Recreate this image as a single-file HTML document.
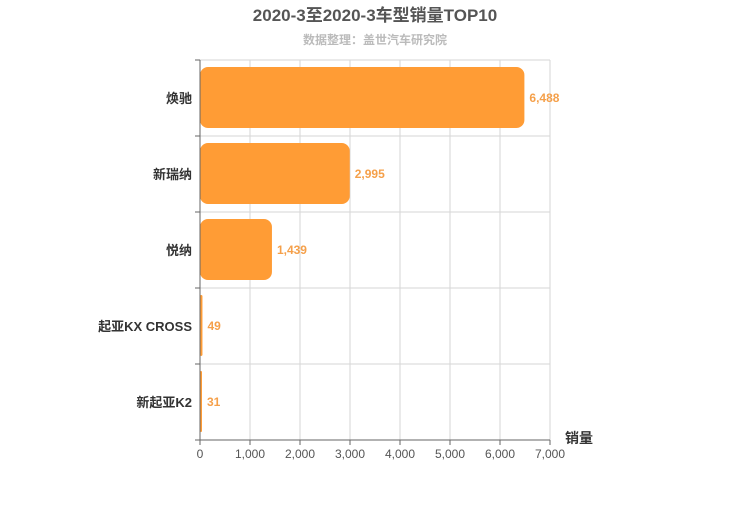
<!DOCTYPE html>
<html><head><meta charset="utf-8"><style>
body{margin:0;background:#fff;font-family:"Liberation Sans","Noto Sans CJK SC",sans-serif}
</style></head><body>
<svg id="c" width="750" height="500" xmlns="http://www.w3.org/2000/svg" font-family="Liberation Sans, Noto Sans CJK SC, sans-serif">
<text x="375" y="21" text-anchor="middle" font-size="17" font-weight="bold" fill="#555">2020-3至2020-3车型销量TOP10</text>
<text x="375" y="44" text-anchor="middle" font-size="12" font-weight="bold" fill="#bbb">数据整理：盖世汽车研究院</text>
<g id="grid"></g><g id="bars"></g><g id="axes"></g>
<text x="565" y="443" font-size="14" font-weight="bold" fill="#333">销量</text>
</svg>
<script>
const categories=["焕驰","新瑞纳","悦纳","起亚KX CROSS","新起亚K2"];
const values=[6488,2995,1439,49,31];
const valueLabels=["6,488","2,995","1,439","49","31"];
const xTicks=[0,1000,2000,3000,4000,5000,6000,7000];
const xTickLabels=["0","1,000","2,000","3,000","4,000","5,000","6,000","7,000"];
const NS="http://www.w3.org/2000/svg";
const L=200,R=550,T=60,B=440,xMax=7000;
const x=v=>L+(R-L)*v/xMax;
const band=(B-T)/categories.length;
const y=i=>T+band*i;
function mk(p,tag,a,txt){const e=document.createElementNS(NS,tag);for(const k in a)e.setAttribute(k,a[k]);if(txt!=null)e.textContent=txt;document.getElementById(p).appendChild(e);return e;}
xTicks.forEach((t,i)=>{
 if(i>0){const g=mk('grid','line',{x1:x(t),x2:x(t),y1:T,y2:B,stroke:'#d6d6d6'});
 }
 const tk=mk('axes','line',{x1:x(t),x2:x(t),y1:B,y2:B+5,stroke:'#666'});
 
 const lb=mk('axes','text',{x:x(t),y:B+18,'text-anchor':'middle','font-size':12,fill:'#555'},xTickLabels[i]);
 
});
for(let i=0;i<=categories.length;i++){
 if(i<categories.length){const g=mk('grid','line',{x1:L,x2:R,y1:y(i),y2:y(i),stroke:'#d6d6d6'});
 }
 const tk=mk('axes','line',{x1:L-5,x2:L,y1:y(i),y2:y(i),stroke:'#666'});
 
}
categories.forEach((c,i)=>{
 const w=Math.max(x(values[i])-L,2);
 const r=mk('bars','rect',{x:L,y:y(i)+7,width:w,height:band-15,rx:Math.min(8,w/2),fill:'#ff9c35'});
 
 const v=mk('bars','text',{x:L+w+5,y:y(i)+band/2+4,'font-size':12,'font-weight':'bold',fill:'#f5a04a'},valueLabels[i]);
 
 const cl=mk('axes','text',{x:L-8,y:y(i)+band/2+5,'text-anchor':'end','font-size':13,'font-weight':'bold',fill:'#333'},c);
 
});
const ax=mk('axes','line',{x1:L,x2:L,y1:T,y2:B,stroke:'#666'});

const bx=mk('axes','line',{x1:L,x2:R,y1:B,y2:B,stroke:'#666'});

</script>
</body></html>
